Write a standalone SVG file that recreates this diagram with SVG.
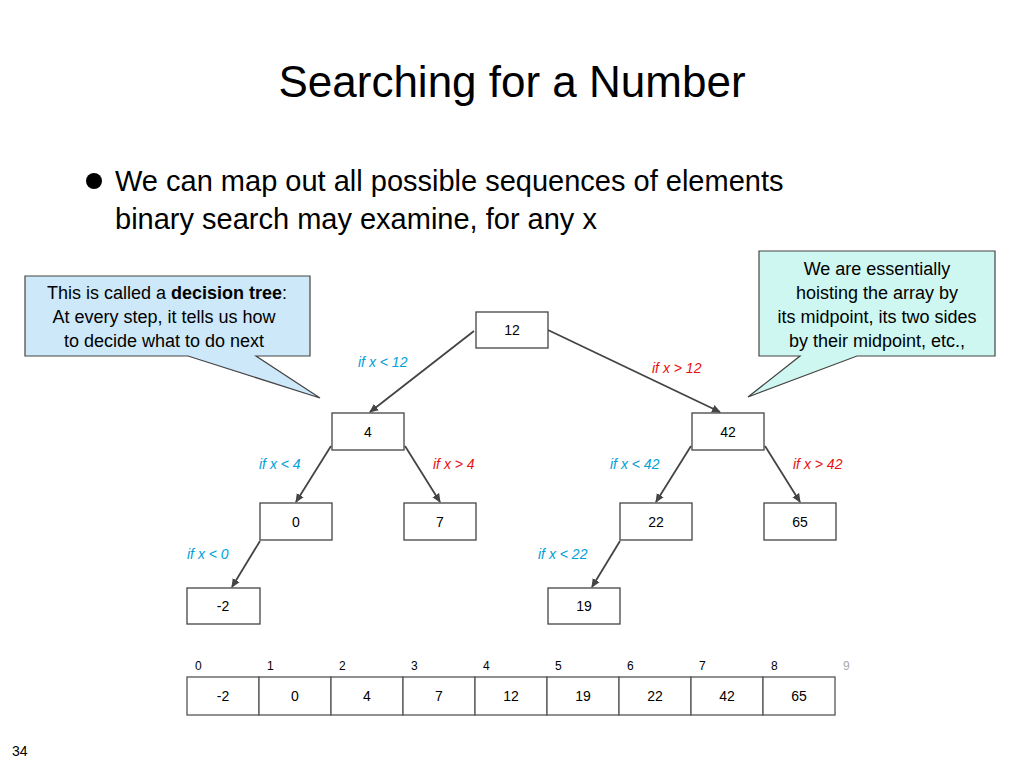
<svg xmlns="http://www.w3.org/2000/svg" width="1024" height="768" viewBox="0 0 1024 768">
<style>
text{font-family:"Liberation Sans",Arial,sans-serif}
.n rect{fill:#fff;stroke:#444;stroke-width:1.3}
.n text{font-size:14px;text-anchor:middle}
.c line{stroke:#444;stroke-width:1.8;marker-end:url(#a)}
.lb{font-size:14px;font-style:italic}
.b{fill:#00a0d8}.r{fill:#e81010}
.cell{fill:#fff;stroke:#555;stroke-width:1.3}
.ix{font-size:12px;font-family:"DejaVu Sans Condensed","Liberation Sans",sans-serif}
</style>
<defs><marker id="a" markerWidth="10" markerHeight="10" refX="8" refY="5" orient="auto" markerUnits="userSpaceOnUse"><path d="M0,1 L9,5 L0,9 z" fill="#444"/></marker></defs>
<rect width="1024" height="768" fill="#fff"/>
<text x="512" y="97" font-size="44" text-anchor="middle">Searching for a Number</text>
<circle cx="94" cy="181" r="8" fill="#000"/>
<text x="115" y="191" font-size="29">We can map out all possible sequences of elements</text>
<text x="115" y="229" font-size="29">binary search may examine, for any x</text>
<g id="callout-left"><path d="M25,276 H310 V356 H256 L320,398 L188,356 H25 Z" fill="#cde9f9" stroke="#444" stroke-width="1.2"/>
<text font-size="18" text-anchor="middle"><tspan x="167" y="299">This is called a <tspan font-weight="bold">decision tree</tspan>:</tspan><tspan x="164" y="323">At every step, it tells us how</tspan><tspan x="164" y="347">to decide what to do next</tspan></text></g>
<g id="callout-right"><path d="M759,251 H995 V356 H857 L748,397 L800,356 H759 Z" fill="#cff7f1" stroke="#444" stroke-width="1.2"/>
<text font-size="18" text-anchor="middle"><tspan x="877" y="275">We are essentially</tspan><tspan x="877" y="299">hoisting the array by</tspan><tspan x="877" y="323">its midpoint, its two sides</tspan><tspan x="877" y="347">by their midpoint, etc.,</tspan></text></g>
<g class="c" id="connectors">
<line x1="474" y1="331" x2="370" y2="412"/>
<line x1="548" y1="330" x2="720" y2="412"/>
<line x1="331" y1="446" x2="296" y2="502"/>
<line x1="405" y1="446" x2="440" y2="502"/>
<line x1="691" y1="446" x2="656" y2="502"/>
<line x1="765" y1="446" x2="800" y2="502"/>
<line x1="260" y1="541" x2="232" y2="587"/>
<line x1="620" y1="541" x2="592" y2="587"/>
</g>
<text class="lb b" x="358" y="367">if x &lt; 12</text>
<text class="lb r" x="652" y="373">if x &gt; 12</text>
<text class="lb b" x="259" y="469">if x &lt; 4</text>
<text class="lb r" x="433" y="469">if x &gt; 4</text>
<text class="lb b" x="610" y="469">if x &lt; 42</text>
<text class="lb r" x="793" y="469">if x &gt; 42</text>
<text class="lb b" x="187" y="559">if x &lt; 0</text>
<text class="lb b" x="538" y="559">if x &lt; 22</text>
<g class="n" id="n12"><rect x="476" y="312" width="72" height="36"/><text x="512" y="335">12</text></g>
<g class="n" id="n4"><rect x="332" y="413" width="72" height="37"/><text x="368" y="437">4</text></g>
<g class="n" id="n42"><rect x="692" y="413" width="72" height="37"/><text x="728" y="437">42</text></g>
<g class="n" id="n0"><rect x="260" y="503" width="72" height="37"/><text x="296" y="527">0</text></g>
<g class="n" id="n7"><rect x="404" y="503" width="72" height="37"/><text x="440" y="527">7</text></g>
<g class="n" id="n22"><rect x="620" y="503" width="72" height="37"/><text x="656" y="527">22</text></g>
<g class="n" id="n65"><rect x="764" y="503" width="72" height="37"/><text x="800" y="527">65</text></g>
<g class="n" id="nm2"><rect x="187" y="588" width="73" height="36"/><text x="223" y="611">-2</text></g>
<g class="n" id="n19"><rect x="548" y="588" width="72" height="36"/><text x="584" y="611">19</text></g>
<g id="array">
<rect class="cell" x="187" y="677" width="72" height="38"/><rect class="cell" x="259" y="677" width="72" height="38"/><rect class="cell" x="331" y="677" width="72" height="38"/><rect class="cell" x="403" y="677" width="72" height="38"/><rect class="cell" x="475" y="677" width="72" height="38"/><rect class="cell" x="547" y="677" width="72" height="38"/><rect class="cell" x="619" y="677" width="72" height="38"/><rect class="cell" x="691" y="677" width="72" height="38"/><rect class="cell" x="763" y="677" width="72" height="38"/>
<g font-size="14" text-anchor="middle"><text x="223" y="701">-2</text><text x="295" y="701">0</text><text x="367" y="701">4</text><text x="439" y="701">7</text><text x="511" y="701">12</text><text x="583" y="701">19</text><text x="655" y="701">22</text><text x="727" y="701">42</text><text x="799" y="701">65</text></g>
<g class="ix"><text x="195" y="670">0</text><text x="267" y="670">1</text><text x="339" y="670">2</text><text x="411" y="670">3</text><text x="483" y="670">4</text><text x="555" y="670">5</text><text x="627" y="670">6</text><text x="699" y="670">7</text><text x="771" y="670">8</text><text x="843" y="670" fill="#aaa">9</text></g>
</g>
<text x="12" y="756" font-size="14">34</text>
</svg>
